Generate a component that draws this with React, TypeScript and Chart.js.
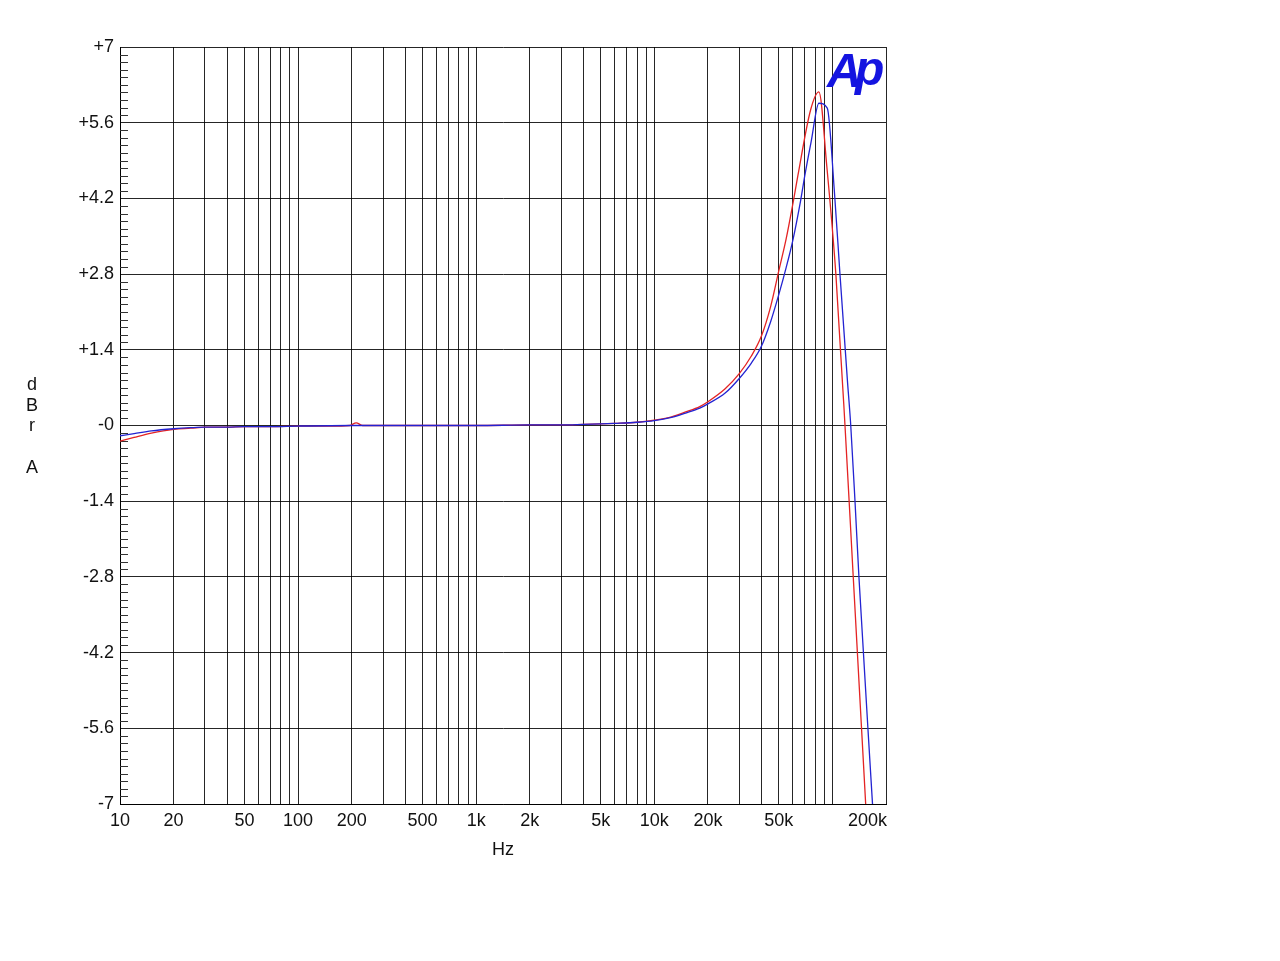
import { useEffect, useRef } from "react";
import { Chart, registerables } from "chart.js";

Chart.register(...registerables);

const FONT = '"Liberation Sans", Arial, Helvetica, sans-serif';

// X axis grid values (1..9 per decade) and labelled values
const xGridValues = [
  10, 20, 30, 40, 50, 60, 70, 80, 90,
  100, 200, 300, 400, 500, 600, 700, 800, 900,
  1000, 2000, 3000, 4000, 5000, 6000, 7000, 8000, 9000,
  10000, 20000, 30000, 40000, 50000, 60000, 70000, 80000, 90000,
  100000, 200000,
];
const xLabelValues = [10, 20, 50, 100, 200, 500, 1000, 2000, 5000, 10000, 20000, 50000, 200000];
const xLabelTexts = ["10", "20", "50", "100", "200", "500", "1k", "2k", "5k", "10k", "20k", "50k", "200k"];

const yTickValues = [7, 5.6, 4.2, 2.8, 1.4, 0, -1.4, -2.8, -4.2, -5.6, -7];
const yTickLabels = ["+7", "+5.6", "+4.2", "+2.8", "+1.4", "-0", "-1.4", "-2.8", "-4.2", "-5.6", "-7"];

const yTitleLetters = ["d", "B", "r", "", "A"];
const xTitle = "Hz";
const logoText = ["A", "p"];

// Red channel
const redFreq = [
  10, 12, 15, 20, 25, 30, 40, 50, 70, 100, 150, 195, 212, 230, 300, 500, 1000, 2000, 3000, 4000,
  5000, 6000, 8000, 10000, 12500, 15000, 18000, 20000, 25000, 30000, 35000, 40000, 45000, 50000,
  55000, 60000, 64000, 75500, 84000, 93000, 104700, 117700, 131000, 153800,
];
const redDb = [
  -0.29, -0.22, -0.14, -0.07, -0.05, -0.03, -0.03, -0.02, -0.02, -0.01, -0.01, 0.0, 0.05, 0.0, 0, 0, 0, 0.01, 0.01, 0.02,
  0.03, 0.04, 0.06, 0.1, 0.16, 0.25, 0.35, 0.44, 0.68, 0.96, 1.28, 1.66, 2.2, 2.86,
  3.45, 4.1, 4.62, 5.84, 6.17, 4.8, 2.78, 0, -2.81, -7,
];

// Blue channel
const blueFreq = [
  10, 12, 15, 20, 25, 30, 40, 50, 70, 100, 200, 500, 1000, 2000, 3000, 4000, 5000, 6000, 8000,
  10000, 12500, 15000, 18000, 20000, 25000, 30000, 35000, 40000, 45000, 50000, 55000, 60000,
  66400, 70000, 76000, 84000, 93600, 102500, 110400, 121400, 126800, 134000, 141000, 168000,
];
const blueDb = [
  -0.19, -0.15, -0.1, -0.06, -0.04, -0.03, -0.03, -0.02, -0.02, -0.01, 0, 0, 0, 0.01, 0.01, 0.02, 0.03, 0.04, 0.06,
  0.09, 0.15, 0.23, 0.32, 0.4, 0.6, 0.87, 1.15, 1.47, 1.92, 2.42, 2.92, 3.43,
  4.17, 4.62, 5.25, 5.96, 5.87, 4.35, 2.78, 0.84, 0, -1.41, -2.81, -7,
];

const GRID = "rgba(0,0,0,0.85)";
const LABEL_SIZE = 18;

const decorPlugin = {
  id: "apDecor",
  beforeDatasetsDraw(chart: any) {
    const ctx = chart.ctx;
    const y = chart.scales.y;
    const area = chart.chartArea;
    ctx.save();
    ctx.strokeStyle = "#333";
    ctx.lineWidth = 1;
    for (let i = -50; i <= 50; i++) {
      if (i % 10 === 0) continue;
      const v = i * 0.14;
      const py = Math.round(y.getPixelForValue(v)) + 0.5;
      ctx.beginPath();
      ctx.moveTo(area.left, py);
      ctx.lineTo(area.left + 8, py);
      ctx.stroke();
    }
    ctx.restore();
  },
  afterDraw(chart: any) {
    const ctx = chart.ctx;
    const x = chart.scales.x;
    const area = chart.chartArea;
    ctx.save();
    ctx.fillStyle = "#111";
    ctx.font = `${LABEL_SIZE}px ${FONT}`;
    ctx.textBaseline = "middle";
    xLabelValues.forEach((v, i) => {
      const px = x.getPixelForValue(v);
      const last = i === xLabelValues.length - 1;
      ctx.textAlign = last ? "right" : "center";
      ctx.fillText(xLabelTexts[i], last ? area.right + 1 : px, 821);
    });
    ctx.textAlign = "center";
    ctx.fillText(xTitle, (area.left + area.right) / 2, 850);
    yTitleLetters.forEach((t, i) => {
      if (t) ctx.fillText(t, 32, 385 + i * 20.7);
    });
    // Ap logo
    ctx.fillStyle = "#1414e0";
    ctx.font = `italic bold 48px ${FONT}`;
    ctx.textAlign = "left";
    ctx.textBaseline = "alphabetic";
    ctx.fillText(logoText[0], 827, 87);
    ctx.fillText(logoText[1], 855, 85);
    ctx.restore();
  },
};

export default function App() {
  const ref = useRef<HTMLCanvasElement | null>(null);

  useEffect(() => {
    if (!ref.current) return;
    const chart = new Chart(ref.current, {
      type: "line",
      data: {
        datasets: [
          {
            label: "B",
            data: blueFreq.map((f, i) => ({ x: f, y: blueDb[i] })),
            borderColor: "rgb(35,35,210)",
            borderWidth: 1.3,
            pointRadius: 0,
            cubicInterpolationMode: "monotone",
            fill: false,
          },
          {
            label: "A",
            data: redFreq.map((f, i) => ({ x: f, y: redDb[i] })),
            borderColor: "rgb(228,35,35)",
            borderWidth: 1.3,
            pointRadius: 0,
            cubicInterpolationMode: "monotone",
            fill: false,
          },
        ],
      },
      options: {
        responsive: false,
        animation: false,
        events: [],
        layout: { padding: { left: 0, top: 47, right: 394, bottom: 0 } },
        plugins: { legend: { display: false }, tooltip: { enabled: false } },
        scales: {
          x: {
            type: "logarithmic",
            min: 10,
            max: 200000,
            afterBuildTicks: (s: any) => {
              s.ticks = xGridValues.map((v) => ({ value: v }));
            },
            afterFit: (s: any) => {
              s.height = 157;
            },
            ticks: { display: false },
            grid: { color: GRID, lineWidth: 1, drawTicks: false },
            border: { display: true, color: "#000", width: 1 },
          },
          y: {
            type: "linear",
            min: -7,
            max: 7,
            afterBuildTicks: (s: any) => {
              s.ticks = yTickValues.map((v) => ({ value: v }));
            },
            afterFit: (s: any) => {
              s.width = 120;
            },
            ticks: {
              padding: 6,
              color: "#111",
              font: { family: FONT, size: LABEL_SIZE },
              autoSkip: false,
              callback: (v: any) => {
                const i = yTickValues.findIndex((t) => Math.abs(t - Number(v)) < 1e-6);
                return i >= 0 ? yTickLabels[i] : "";
              },
            },
            grid: { color: GRID, lineWidth: 1, drawTicks: false },
            border: { display: true, color: "#000", width: 1 },
          },
        },
      },
      plugins: [decorPlugin],
    } as any);
    return () => chart.destroy();
  }, []);

  return (
    <div style={{ position: "absolute", left: 0, top: 0, width: 1280, height: 961, background: "#fff" }}>
      <canvas ref={ref} width={1280} height={961} style={{ display: "block" }} />
    </div>
  );
}
